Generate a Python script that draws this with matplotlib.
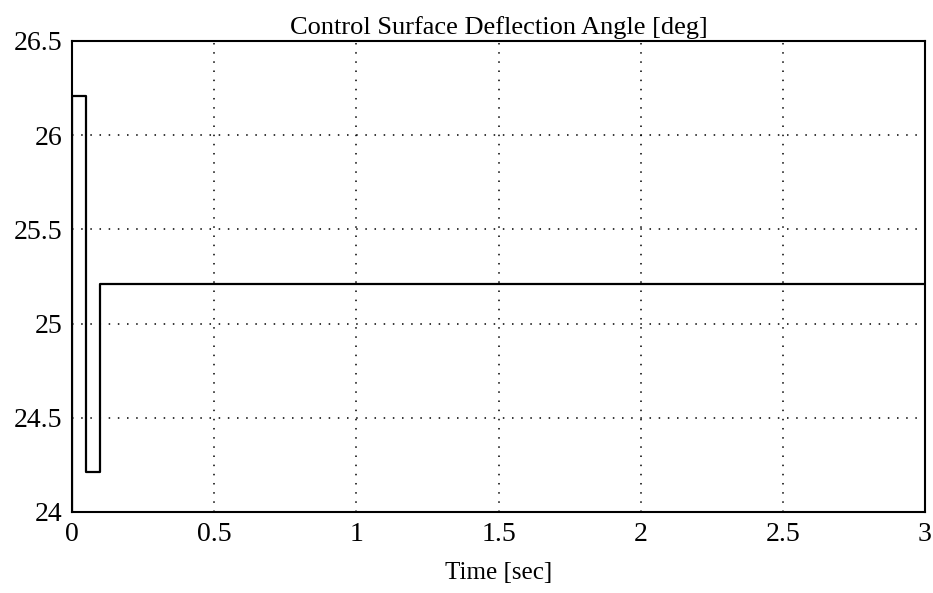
import numpy as np
import matplotlib
matplotlib.use("Agg")
from matplotlib import pyplot as plt

# step response of control surface deflection
time_sec = [0.0, 0.0, 0.05, 0.05, 0.1, 0.1, 3.0]
angle_deg = [24.0, 26.21, 26.21, 24.21, 24.21, 25.21, 25.21]

x_ticks = [0, 0.5, 1, 1.5, 2, 2.5, 3]
x_labels = ["0", "0.5", "1", "1.5", "2", "2.5", "3"]
y_ticks = [24, 24.5, 25, 25.5, 26, 26.5]
y_labels = ["24", "24.5", "25", "25.5", "26", "26.5"]

plt.rcParams['font.family'] = ['Liberation Serif', 'DejaVu Serif']

fig = plt.figure(figsize=(9.33, 5.93), dpi=100)
ax = fig.add_axes([0.0772, 0.1366, 0.9142, 0.7943])

ax.plot(time_sec, angle_deg, color='black', linewidth=1.6)

ax.set_xlim(0, 3)
ax.set_ylim(24, 26.5)
ax.set_xticks(x_ticks)
ax.set_xticklabels(x_labels)
ax.set_yticks(y_ticks)
ax.set_yticklabels(y_labels)
ax.tick_params(direction='in', length=0, labelsize=20)
ax.tick_params(axis='x', pad=7)
ax.tick_params(axis='y', pad=7)
ax.grid(True, linestyle=(0, (1, 5)), color='black', linewidth=1.1)
for s in ax.spines.values():
    s.set_linewidth(1.5)

ax.set_title('Control Surface Deflection Angle [deg]', fontsize=19, pad=5)
ax.set_xlabel('Time [sec]', fontsize=18, labelpad=11)

fig.savefig('out.png', dpi=100)
